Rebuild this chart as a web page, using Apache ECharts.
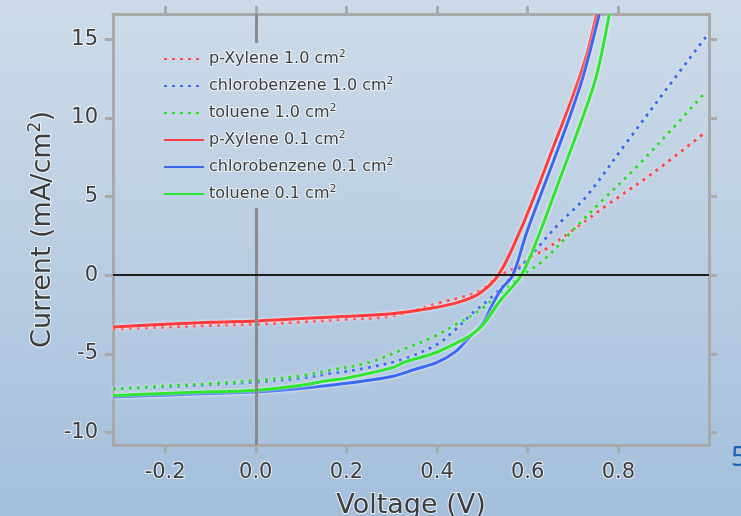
<!DOCTYPE html>
<html>
<head>
<meta charset="utf-8">
<script src="https://cdn.jsdelivr.net/npm/echarts@6/dist/echarts.min.js"></script>
<style>
  html, body { margin: 0; padding: 0; }
  #main {
    width: 741px; height: 516px;
    background: linear-gradient(to bottom, #cddbe9 0%, #bccfe3 45%, #a3bfdc 100%);
  }
</style>
</head>
<body>
<div id="main"></div>
<script>
// tick positions and labels
var xTicks = [-0.2, 0.0, 0.2, 0.4, 0.6, 0.8];
var xTickLabels = ['-0.2', '0.0', '0.2', '0.4', '0.6', '0.8'];
var yTicks = [-10, -5, 0, 5, 10, 15];
var yTickLabels = ['-10', '-5', '0', '5', '10', '15'];

// p-Xylene 1.0 cm2
var vXyl10 = [-0.315, -0.2, -0.1, 0, 0.1, 0.2, 0.3, 0.413, 0.457, 0.494, 0.54, 0.582, 0.611, 0.648, 0.70, 0.781, 0.876, 0.994];
var jXyl10 = [-3.42, -3.3, -3.2, -3.12, -2.98, -2.8, -2.6, -1.7, -1.38, -1.0, 0, 0.6, 1.2, 1.8, 2.87, 4.57, 6.48, 9.13];
// chlorobenzene 1.0 cm2
var vCb10 = [-0.315, -0.2, -0.1, 0, 0.1, 0.163, 0.244, 0.329, 0.4, 0.439, 0.479, 0.523, 0.567, 0.615, 0.634, 0.67, 0.729, 0.817, 0.905, 0.994];
var jCb10 = [-7.22, -7.11, -6.97, -6.8, -6.55, -6.26, -5.9, -5.31, -4.4, -3.5, -2.4, -1.35, 0, 1.5, 2.15, 3.3, 4.99, 8.39, 11.78, 15.18];
// toluene 1.0 cm2
var vTol10 = [-0.315, -0.2, -0.1, 0, 0.1, 0.163, 0.25, 0.329, 0.39, 0.439, 0.494, 0.55, 0.597, 0.634, 0.70, 0.762, 0.843, 0.92, 0.994];
var jTol10 = [-7.25, -7.05, -6.9, -6.7, -6.4, -6.05, -5.55, -4.67, -3.95, -3.18, -2.23, -0.9, 0.17, 0.92, 2.87, 4.67, 6.96, 9.34, 11.68];
// p-Xylene 0.1 cm2
var vXyl01 = [-0.315, -0.2, -0.1, 0, 0.1, 0.2, 0.3, 0.384, 0.45, 0.494, 0.535, 0.58, 0.62, 0.66, 0.70, 0.73, 0.752];
var jXyl01 = [-3.3, -3.12, -3.0, -2.91, -2.76, -2.62, -2.45, -2.12, -1.7, -1.15, 0, 2.6, 5.4, 8.4, 11.4, 14.0, 16.6];
// chlorobenzene 0.1 cm2
var vCb01 = [-0.315, -0.2, -0.1, 0, 0.1, 0.163, 0.2, 0.3, 0.35, 0.4, 0.44, 0.47, 0.5, 0.52, 0.54, 0.567, 0.597, 0.641, 0.685, 0.722, 0.758];
var jCb01 = [-7.75, -7.63, -7.53, -7.43, -7.2, -7.0, -6.88, -6.45, -6.0, -5.55, -4.88, -4.0, -3.1, -2.0, -0.95, 0, 2.65, 6.05, 9.45, 12.6, 16.6];
// toluene 0.1 cm2
var vTol01 = [-0.315, -0.2, -0.1, 0, 0.1, 0.163, 0.2, 0.3, 0.33, 0.39, 0.44, 0.47, 0.5, 0.54, 0.586, 0.626, 0.67, 0.714, 0.751, 0.78];
var jTol01 = [-7.65, -7.52, -7.42, -7.32, -7.0, -6.69, -6.55, -5.9, -5.52, -5.0, -4.35, -3.9, -3.2, -1.6, 0, 2.65, 6.05, 9.45, 12.6, 16.6];

function pairs(v, j) {
  return v.map(function (x, i) { return [x, j[i]]; });
}

var textColor = '#3c3c3c';
var halo = 'rgba(255,255,255,0.75)';
var frame = '#a9a9a9';

function curve(name, v, j, color, dashed) {
  return {
    name: name,
    type: 'line',
    data: pairs(v, j),
    smooth: 0.35,
    showSymbol: false,
    symbol: 'none',
    animation: false,
    lineStyle: {
      color: color,
      width: 3,
      type: dashed ? [3, 5] : 'solid',
      shadowColor: 'rgba(255,255,255,0.95)',
      shadowBlur: 3
    },
    itemStyle: { color: color }
  };
}

var chart = echarts.init(document.getElementById('main'));
var sup = { fontSize: 11, padding: [0, 0, 9, 0], color: textColor, textBorderColor: halo, textBorderWidth: 2 };

var series = [
  curve('p-Xylene 1.0 cm{s|2}', vXyl10, jXyl10, '#ff4a4a', true),
  curve('chlorobenzene 1.0 cm{s|2}', vCb10, jCb10, '#3d6cf0', true),
  curve('toluene 1.0 cm{s|2}', vTol10, jTol10, '#2fd92f', true),
  curve('p-Xylene 0.1 cm{s|2}', vXyl01, jXyl01, '#ff3b3b', false),
  curve('chlorobenzene 0.1 cm{s|2}', vCb01, jCb01, '#3a68f2', false),
  curve('toluene 0.1 cm{s|2}', vTol01, jTol01, '#2ee62e', false)
];
series[0].markLine = {
  silent: true,
  symbol: ['none', 'none'],
  animation: false,
  label: { show: false },
  data: [
    { xAxis: 0, lineStyle: { color: '#8a8a8a', width: 3, type: 'solid', shadowBlur: 0 } },
    { yAxis: 0, lineStyle: { color: '#1e1e1e', width: 2, type: 'solid', shadowBlur: 0 } }
  ]
};

function xAxisCfg(pos, main) {
  return {
    type: 'value', position: pos, min: -0.315, max: 1.0,
    axisLine: { show: true, onZero: false, lineStyle: { color: frame, width: 3 } },
    axisTick: { show: true, length: 8, lineStyle: { color: frame, width: 3 }, customValues: xTicks },
    axisLabel: {
      show: main, customValues: xTicks, margin: 17,
      fontFamily: 'DejaVu Sans', fontSize: 21, color: textColor,
      textBorderColor: halo, textBorderWidth: 2,
      formatter: function (val) { return xTickLabels[xTicks.indexOf(Math.round(val * 10) / 10)]; }
    },
    splitLine: { show: false },
    name: main ? 'Voltage (V)' : '',
    nameLocation: 'middle', nameGap: 47, nameMoveOverlap: false,
    nameTextStyle: { fontFamily: 'DejaVu Sans', fontSize: 27, color: textColor, textBorderColor: halo, textBorderWidth: 2 }
  };
}
function yAxisCfg(pos, main) {
  return {
    type: 'value', position: pos, min: -10.8, max: 16.6,
    axisLine: { show: true, onZero: false, lineStyle: { color: frame, width: 3 } },
    axisTick: { show: true, length: 8, lineStyle: { color: frame, width: 3 }, customValues: yTicks },
    axisLabel: {
      show: main, customValues: yTicks, margin: 15,
      fontFamily: 'DejaVu Sans', fontSize: 21, color: textColor,
      textBorderColor: halo, textBorderWidth: 2,
      formatter: function (val) { return yTickLabels[yTicks.indexOf(Math.round(val))]; }
    },
    splitLine: { show: false },
    name: main ? 'Current (mA/cm{sup|2})' : '',
    nameLocation: 'middle', nameGap: 55, nameRotate: 90, nameMoveOverlap: false,
    nameTextStyle: {
      fontFamily: 'DejaVu Sans', fontSize: 27, color: textColor, textBorderColor: halo, textBorderWidth: 2,
      rich: { sup: { fontSize: 17, padding: [0, 0, 14, 0], fontFamily: 'DejaVu Sans', color: textColor, textBorderColor: halo, textBorderWidth: 2 } }
    }
  };
}

chart.setOption({
  backgroundColor: 'transparent',
  animation: false,
  grid: { left: 113, right: 32, top: 14, bottom: 71, containLabel: false, outerBoundsMode: 'none' },
  legend: {
    orient: 'vertical', left: 158, top: 43,
    padding: [5, 8, 5, 5],
    itemWidth: 40, itemHeight: 14, itemGap: 7,
    itemStyle: { opacity: 0 },
    backgroundColor: {
      type: 'linear', x: 0, y: 0, x2: 0, y2: 1,
      colorStops: [{ offset: 0, color: '#cad9e8' }, { offset: 1, color: '#bdd0e4' }]
    },
    z: 10,
    textStyle: {
      fontFamily: 'DejaVu Sans', fontSize: 16, color: textColor,
      textBorderColor: halo, textBorderWidth: 2,
      rich: { s: sup }
    },
    data: series.map(function (s) { return s.name; })
  },
  xAxis: [xAxisCfg('bottom', true), xAxisCfg('top', false)],
  yAxis: [yAxisCfg('left', true), yAxisCfg('right', false)],
  graphic: [{
    type: 'text', left: 731, top: 444,
    style: { text: '5', fontFamily: 'Noto Sans', fontSize: 28, fill: '#1f63b4' }
  }],
  series: series
});
</script>
</body>
</html>
